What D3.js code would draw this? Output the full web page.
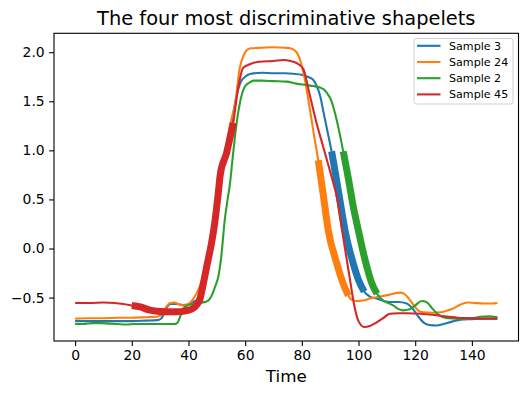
<!DOCTYPE html>
<html>
<head>
<meta charset="utf-8">
<script src="https://cdn.jsdelivr.net/npm/d3@7"></script>
<style>
  body { margin: 0; background: #fff; }
  svg { display: block; font-family: "DejaVu Sans", sans-serif; }
</style>
</head>
<body>
<svg id="chart" width="528" height="395"></svg>
<script>
// [time, value] pairs
const sample3 = [[0,-0.74],[5,-0.74],[10,-0.74],[15,-0.74],[20,-0.74],[25,-0.735],[29,-0.73],[30.5,-0.71],[32,-0.62],[33.5,-0.565],[36,-0.565],[38,-0.575],[40,-0.57],[42,-0.54],[43,-0.52],[45,-0.35],[47,-0.1],[49,0.2],[51,0.6],[53,0.95],[55,1.25],[57,1.56],[58.5,1.7],[60,1.75],[62,1.78],[66,1.79],[70,1.785],[74,1.785],[77,1.78],[80,1.77],[82,1.75],[84,1.72],[85.5,1.64],[86.5,1.55],[87.5,1.41],[89,1.2],[90.5,0.99],[92,0.74],[93.5,0.48],[95.2,0.19],[98.1,-0.15],[100,-0.32],[102,-0.44],[104,-0.49],[106.4,-0.51],[109,-0.535],[111,-0.545],[114,-0.545],[117,-0.56],[119.3,-0.62],[121,-0.69],[123,-0.755],[125,-0.78],[127.5,-0.785],[130,-0.77],[133,-0.745],[136,-0.725],[140,-0.72],[145,-0.715],[149,-0.715]];

const sample24 = [[0,-0.715],[5,-0.71],[10,-0.71],[15,-0.705],[20,-0.705],[25,-0.7],[29,-0.695],[30.5,-0.68],[32,-0.6],[33.5,-0.555],[35,-0.55],[37,-0.575],[38.5,-0.58],[40,-0.565],[41.5,-0.52],[42.8,-0.46],[45,-0.3],[47,-0.05],[49,0.3],[51,0.7],[53,1.0],[55,1.3],[56.4,1.46],[58.1,1.84],[59.5,1.97],[60.5,2.02],[62,2.04],[66,2.045],[70,2.05],[74,2.045],[76,2.04],[78.1,2.0],[80,1.86],[81,1.73],[82.5,1.48],[84.6,1.1],[85.8,0.9],[87.5,0.56],[89.3,0.19],[92.3,-0.15],[94.5,-0.35],[96.4,-0.48],[97.5,-0.52],[99,-0.535],[101.7,-0.53],[104,-0.51],[107.6,-0.49],[111,-0.47],[114.6,-0.45],[116,-0.46],[117.5,-0.5],[119,-0.56],[121,-0.63],[123,-0.65],[126,-0.655],[129,-0.65],[131,-0.635],[133.5,-0.61],[136,-0.57],[138.5,-0.55],[141,-0.555],[144,-0.56],[147,-0.56],[149,-0.555]];

const sample2 = [[0,-0.77],[3,-0.77],[6,-0.76],[9,-0.76],[12,-0.765],[15,-0.77],[18,-0.775],[21,-0.77],[24,-0.77],[28,-0.77],[32,-0.77],[35,-0.77],[36,-0.76],[37,-0.7],[38,-0.62],[39.5,-0.58],[42,-0.565],[45,-0.55],[47,-0.53],[48.5,-0.46],[49.5,-0.38],[50.5,-0.29],[51.5,-0.1],[52.8,0.29],[53.8,0.5],[54.6,0.65],[55.5,0.9],[56.4,1.14],[57.5,1.38],[58.5,1.53],[59.9,1.65],[61.5,1.69],[63,1.71],[66,1.71],[70,1.705],[74.6,1.7],[78,1.68],[81.7,1.665],[84,1.655],[86.4,1.64],[88,1.615],[89.2,1.57],[90.5,1.5],[91.5,1.4],[92.3,1.31],[93.5,1.15],[94.6,0.99],[96.5,0.7],[98,0.45],[99.9,0.19],[102.6,-0.15],[104.5,-0.34],[106.5,-0.46],[108.7,-0.53],[110.5,-0.555],[112.2,-0.58],[114,-0.615],[115.8,-0.63],[118,-0.62],[120,-0.58],[122.3,-0.535],[123.5,-0.54],[124.6,-0.56],[126,-0.61],[127.6,-0.66],[129.5,-0.695],[131.5,-0.71],[135,-0.715],[140,-0.71],[143,-0.695],[146,-0.69],[149,-0.7]];

const sample45 = [[0,-0.555],[5,-0.555],[10,-0.55],[14,-0.555],[17,-0.565],[20,-0.58],[23,-0.595],[26,-0.625],[29,-0.64],[32,-0.645],[36,-0.645],[39,-0.635],[41.6,-0.61],[43,-0.57],[44,-0.52],[45.3,-0.35],[46.4,-0.19],[48.1,0.05],[48.7,0.15],[50.5,0.56],[51.2,0.75],[53.4,0.97],[55.8,1.28],[57.5,1.63],[59.3,1.84],[61,1.87],[62.8,1.89],[66,1.905],[70,1.91],[73.4,1.92],[76,1.91],[78.1,1.89],[80.5,1.83],[81.5,1.73],[82.5,1.6],[83.5,1.48],[85,1.3],[87.5,1.04],[90.5,0.73],[92.5,0.5],[94,0.22],[95.5,-0.05],[97,-0.32],[98.5,-0.58],[100,-0.74],[102,-0.8],[104,-0.79],[106,-0.76],[108.7,-0.71],[111,-0.665],[114,-0.66],[117,-0.66],[122,-0.665],[126,-0.675],[130,-0.69],[135,-0.705],[140,-0.71],[145,-0.715],[149,-0.715]];

const seriesNames = ['Sample 3', 'Sample 24', 'Sample 2', 'Sample 45'];
const seriesData = [sample3, sample24, sample2, sample45];
const colors = ['#1f77b4', '#ff7f0e', '#2ca02c', '#d62728'];
// start / end time of each shapelet
const shapeletStart = [90.5, 85.8, 94.6, 20];
const shapeletEnd = [102, 96.4, 106.5, 55.8];

const xTicks = [0, 20, 40, 60, 80, 100, 120, 140];
const yTicks = [-0.5, 0.0, 0.5, 1.0, 1.5, 2.0];

const margin = { top: 33.3, right: 9.5, bottom: 54, left: 54 };
const width = 528, height = 395;

const svg = d3.select('#chart');

// matplotlib style 5% padding
let xMin = 0, xMax = 149;
let allV = seriesData.flat().map(d => d[1]);
let yMin = d3.min(allV), yMax = d3.max(allV);
let xPad = (xMax - xMin) * 0.05, yPad = (yMax - yMin) * 0.05;

const xScale = d3.scaleLinear()
  .domain([xMin - xPad, xMax + xPad])
  .range([margin.left, width - margin.right]);
const yScale = d3.scaleLinear()
  .domain([yMin - yPad, yMax + yPad])
  .range([height - margin.bottom, margin.top]);

const line = d3.line()
  .x(d => xScale(d[0]))
  .y(d => yScale(d[1]))
  .curve(d3.curveMonotoneX);

const plot = svg.append('g');

seriesData.forEach((data, i) => {
  plot.append('path')
    .attr('d', line(data))
    .style('fill', 'none')
    .style('stroke', colors[i])
    .style('stroke-width', 2.1)
    .style('stroke-linejoin', 'round');

  let part = data.filter(d => d[0] >= shapeletStart[i] && d[0] <= shapeletEnd[i]);
  plot.append('path')
    .attr('d', line(part))
    .style('fill', 'none')
    .style('stroke', colors[i])
    .style('stroke-width', 7)
    .style('stroke-linejoin', 'round')
    .style('stroke-linecap', 'butt');
});

// axes
var xAxis = d3.axisBottom(xScale).tickValues(xTicks).tickFormat(d3.format('d'))
  .tickSize(4.9).tickPadding(4.4);
var yAxis = d3.axisLeft(yScale).tickValues(yTicks).tickFormat(d3.format('.1f'))
  .tickSize(4.9).tickPadding(4.4);

let gx = svg.append('g')
  .attr('transform', `translate(0, ${height - margin.bottom})`)
  .call(xAxis);
let gy = svg.append('g')
  .attr('transform', `translate(${margin.left}, 0)`)
  .call(yAxis);

[gx, gy].forEach(g => {
  g.select('.domain').remove();
  g.selectAll('line').attr('stroke', '#000').attr('stroke-width', 1.1);
  g.selectAll('text')
    .attr('fill', '#000')
    .style('font-family', '"DejaVu Sans", sans-serif')
    .style('font-size', '13.9px');
});

// frame
svg.append('rect')
  .attr('x', margin.left)
  .attr('y', margin.top)
  .attr('width', width - margin.left - margin.right)
  .attr('height', height - margin.top - margin.bottom)
  .style('fill', 'none')
  .style('stroke', '#000')
  .style('stroke-width', 1.1);

// title + label
let cx = (margin.left + width - margin.right) / 2;
svg.append('text')
  .attr('x', cx)
  .attr('y', 25)
  .attr('text-anchor', 'middle')
  .style('font-size', '19.4px')
  .text('The four most discriminative shapelets');

svg.append('text')
  .attr('x', cx)
  .attr('y', 382)
  .attr('text-anchor', 'middle')
  .style('font-size', '16.7px')
  .text('Time');

// legend
let legend = svg.append('g');
legend.append('rect')
  .attr('x', 414)
  .attr('y', 38.5)
  .attr('width', 99)
  .attr('height', 65.5)
  .attr('rx', 2.5)
  .style('fill', '#fff')
  .style('fill-opacity', 0.8)
  .style('stroke', '#d0d0d0')
  .style('stroke-width', 1);

seriesNames.forEach((name, i) => {
  let yy = 45.8 + i * 16.2;
  legend.append('line')
    .attr('x1', 417).attr('x2', 440.5)
    .attr('y1', yy).attr('y2', yy)
    .style('stroke', colors[i])
    .style('stroke-width', 2.1);
  legend.append('text')
    .attr('x', 449)
    .attr('y', yy)
    .attr('dy', '0.36em')
    .style('font-size', '11.1px')
    .text(name);
});
</script>
</body>
</html>
